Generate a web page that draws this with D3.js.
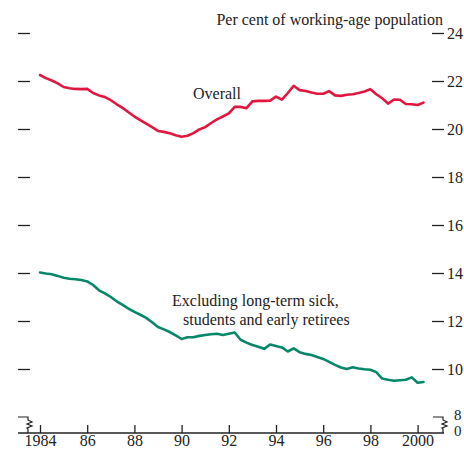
<!DOCTYPE html>
<html>
<head>
<meta charset="utf-8">
<script src="https://cdn.jsdelivr.net/npm/d3@7"></script>
<style>
  html, body { margin: 0; padding: 0; background: #fff; }
  svg text { font-family: "Liberation Serif", "Times New Roman", serif; fill: #222; }
</style>
</head>
<body>
<svg id="chart" width="464" height="450"></svg>
<script>
// Quarterly observations, 1984 Q1 to 2000 Q2
const startYear = 1984;
const overall = [
  22.25, 22.12, 22.02, 21.90, 21.75, 21.70, 21.67, 21.66,
  21.67, 21.50, 21.40, 21.33, 21.20, 21.03, 20.88, 20.70,
  20.52, 20.37, 20.22, 20.08, 19.92, 19.88, 19.82, 19.74,
  19.68, 19.72, 19.83, 19.98, 20.08, 20.25, 20.40, 20.52,
  20.65, 20.92, 20.92, 20.87, 21.15, 21.17, 21.17, 21.18,
  21.35, 21.22, 21.50, 21.80, 21.62, 21.58, 21.52, 21.47,
  21.47, 21.58, 21.40, 21.38, 21.43, 21.45, 21.50, 21.56,
  21.66, 21.45, 21.28, 21.06, 21.23, 21.22, 21.04, 21.03,
  21.00, 21.10
];
const excluding = [
  14.02, 13.98, 13.95, 13.88, 13.80, 13.76, 13.74, 13.71,
  13.65, 13.50, 13.28, 13.15, 13.00, 12.82, 12.67, 12.52,
  12.38, 12.26, 12.13, 11.95, 11.75, 11.65, 11.54, 11.40,
  11.25, 11.32, 11.32, 11.38, 11.42, 11.45, 11.47, 11.42,
  11.47, 11.52, 11.22, 11.10, 11.00, 10.93, 10.84, 11.02,
  10.96, 10.90, 10.73, 10.86, 10.70, 10.63, 10.58, 10.50,
  10.42, 10.30, 10.17, 10.06, 10.00, 10.07, 10.02, 9.99,
  9.97, 9.87, 9.60, 9.55, 9.51, 9.53, 9.55, 9.65,
  9.43, 9.46
];
const xTickValues = [1984, 1986, 1988, 1990, 1992, 1994, 1996, 1998, 2000];
const xTickLabels = ["1984", "86", "88", "90", "92", "94", "96", "98", "2000"];
const yTickValues = [10, 12, 14, 16, 18, 20, 22, 24];
const unitLabel = "Per cent of working-age population";
const overallLabel = "Overall";
const excludingLabel = ["Excluding long-term sick,", "students and early retirees"];

const svg = d3.select("#chart");
const x = d3.scaleLinear().domain([1984, 2000]).range([40, 417.6]);
const y = d3.scaleLinear().domain([8, 24]).range([417, 33]);
const baseY = 433;       // axis line (value 0, below the break)
const leftX = 30, rightX = 432;
const ink = "#222";
const fontSize = "16px";

// Left tick marks (no labels)
const leftAxis = svg.append("g")
  .attr("transform", `translate(${leftX},0)`)
  .call(d3.axisLeft(y).tickValues(yTickValues).tickSize(12).tickFormat(""));
leftAxis.select(".domain").remove();

// Right tick marks with labels
const rightAxis = svg.append("g")
  .attr("transform", `translate(${rightX},0)`)
  .call(d3.axisRight(y).tickValues(yTickValues).tickSize(12).tickPadding(3));
rightAxis.select(".domain").remove();
rightAxis.selectAll("text").style("font-size", fontSize).attr("fill", ink)
  .style("font-family", '"Liberation Serif", serif');

[leftAxis, rightAxis].forEach(g => g.selectAll("line").attr("stroke", ink).attr("stroke-width", 1.3));

// Bottom axis: ticks pointing up, labels below
const bottomAxis = svg.append("g")
  .attr("transform", `translate(0,${baseY})`)
  .call(d3.axisBottom(x).tickValues(xTickValues).tickSize(-8).tickPadding(2)
    .tickFormat((d, i) => xTickLabels[i]));
bottomAxis.select(".domain").remove();
bottomAxis.selectAll("line").attr("stroke", ink).attr("stroke-width", 1.3);
bottomAxis.selectAll("text").style("font-size", fontSize).attr("fill", ink)
  .style("font-family", '"Liberation Serif", serif');

svg.append("line")
  .attr("x1", 18).attr("x2", 444).attr("y1", baseY).attr("y2", baseY)
  .attr("stroke", ink).attr("stroke-width", 1.3);

// Scale-break marks at both ends, from the 8 level down to the axis
function breakPath(x0, x1) {
  const y8 = y(8);
  const zig = x1 + 4;
  return `M${x0},${y8} H${x1} V${y8 + 3} L${zig},${y8 + 5} L${x1 - 1},${y8 + 7} L${zig},${y8 + 9} L${x1 - 1},${y8 + 11} L${x1},${y8 + 12} V${baseY}`;
}
svg.append("path").attr("d", breakPath(18, 28))
  .attr("fill", "none").attr("stroke", ink).attr("stroke-width", 1.2);
svg.append("path").attr("d", breakPath(433, 443))
  .attr("fill", "none").attr("stroke", ink).attr("stroke-width", 1.2);

svg.append("text").attr("x", 454).attr("y", y(8) + 3).style("font-size", "15px").text("8");
svg.append("text").attr("x", 454).attr("y", baseY + 3).style("font-size", "15px").text("0");

// Series lines
const line = d3.line()
  .x((d, i) => x(startYear + i * 0.25))
  .y(d => y(d))
  .curve(d3.curveLinear);

svg.append("path").datum(overall)
  .attr("d", line).attr("fill", "none")
  .attr("stroke", "#e2173f").attr("stroke-width", 2.6)
  .attr("stroke-linejoin", "round").attr("stroke-linecap", "round");

svg.append("path").datum(excluding)
  .attr("d", line).attr("fill", "none")
  .attr("stroke", "#07876a").attr("stroke-width", 2.6)
  .attr("stroke-linejoin", "round").attr("stroke-linecap", "round");

// Text labels
svg.append("text").attr("x", 443).attr("y", 25).attr("text-anchor", "end")
  .style("font-size", fontSize).text(unitLabel);
svg.append("text").attr("x", 193).attr("y", 99)
  .style("font-size", fontSize).text(overallLabel);
svg.append("text").attr("x", 172).attr("y", 306)
  .style("font-size", fontSize).text(excludingLabel[0]);
svg.append("text").attr("x", 183).attr("y", 325)
  .style("font-size", fontSize).text(excludingLabel[1]);
</script>
</body>
</html>
